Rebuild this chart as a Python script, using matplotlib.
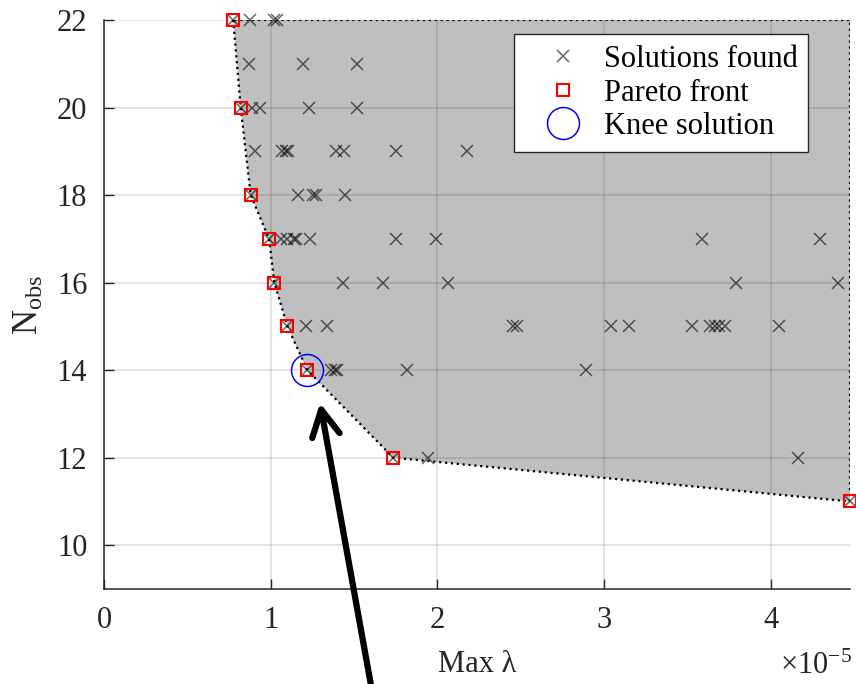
import numpy as np
import matplotlib
matplotlib.use("Agg")
import matplotlib.pyplot as plt

plt.rcParams['font.family'] = ['Liberation Serif', 'DejaVu Serif']
plt.rcParams['mathtext.fontset'] = 'custom'
plt.rcParams['mathtext.rm'] = 'Liberation Serif'

# Max lambda values are in units of 1e-5
sol_x = [0.775, 0.875, 1.02, 1.035,
         0.87, 1.196, 1.52,
         0.82, 0.89, 0.936, 1.232, 1.52,
         0.906, 1.066, 1.09, 1.106, 1.392, 1.44, 1.75, 2.176,
         0.88, 1.166, 1.256, 1.27, 1.446,
         0.99, 1.062, 1.096, 1.14, 1.15, 1.236, 1.75, 1.99, 3.585, 4.295,
         1.022, 1.436, 1.676, 2.066, 3.79, 4.405,
         1.10, 1.212, 1.34, 2.455, 2.475, 3.04, 3.15, 3.525, 3.635, 3.665, 3.69, 3.725, 4.05,
         1.22, 1.362, 1.386, 1.40, 1.82, 2.89,
         1.735, 1.946, 4.165,
         4.475]
sol_y = [22, 22, 22, 22,
         21, 21, 21,
         20, 20, 20, 20, 20,
         19, 19, 19, 19, 19, 19, 19, 19,
         18, 18, 18, 18, 18,
         17, 17, 17, 17, 17, 17, 17, 17, 17, 17,
         16, 16, 16, 16, 16, 16,
         15, 15, 15, 15, 15, 15, 15, 15, 15, 15, 15, 15, 15,
         14, 14, 14, 14, 14, 14,
         12, 12, 12,
         11]

pareto_x = [0.775, 0.82, 0.88, 0.99, 1.022, 1.10, 1.22, 1.735, 4.475]
pareto_y = [22, 20, 18, 17, 16, 15, 14, 12, 11]

knee_x = 1.22
knee_y = 14

fig = plt.figure(figsize=(8.56, 6.84), dpi=100)
ax = fig.add_axes([104/856, 1-589/684, 746/856, 569/684])

# dominated region
poly_x = pareto_x + [pareto_x[-1]]
poly_y = pareto_y + [max(pareto_y)]
ax.fill(poly_x, poly_y, facecolor='#bfbfbf', edgecolor='k', linestyle=':', linewidth=1.6, zorder=1)

ax.grid(True, color='0.15', alpha=0.15, linewidth=1.2, zorder=2)
ax.set_axisbelow(False)

ax.plot(sol_x, sol_y, 'x', color='k', alpha=0.6, markersize=8, markeredgewidth=1.1,
        label='Solutions found', zorder=3, clip_on=False)
ax.plot(pareto_x, pareto_y, 's', markerfacecolor='none', markeredgecolor='red', markersize=8.5,
        markeredgewidth=1.5, label='Pareto front', zorder=4, clip_on=False)
ax.plot([knee_x], [knee_y], 'o', markerfacecolor='none', markeredgecolor='blue', markersize=23,
        markeredgewidth=1.1, label='Knee solution', zorder=5, clip_on=False)

ax.set_xlim(0, 4.475)
ax.set_ylim(9, 22)
ax.set_xticks([0, 1, 2, 3, 4])
ax.set_yticks([10, 12, 14, 16, 18, 20, 22])
ax.tick_params(direction='in', length=7, width=1, colors='0.15', labelsize=22, pad=12)
for s in ['top', 'right']:
    ax.spines[s].set_visible(False)
for s in ['left', 'bottom']:
    ax.spines[s].set_color('0.15')
    ax.spines[s].set_linewidth(1.1)

ax.set_xlabel('Max λ', fontsize=22, color='0.15', labelpad=11)
ax.set_ylabel(r'$\mathregular{N_{obs}}$', fontsize=25, color='0.15', labelpad=8)
fig.text(852/856, 3/684, r'$\times\mathregular{10^{-5}}$', fontsize=22, color='0.15',
         ha='right', va='bottom')

leg = ax.legend(loc='upper right', bbox_to_anchor=(0.944, 0.975), borderaxespad=0,
                fontsize=22, frameon=True, fancybox=False, framealpha=1, edgecolor='0.15',
                handletextpad=0.09, borderpad=0.35, labelspacing=0.15, handlelength=2.5)
leg.get_frame().set_linewidth(1.0)

ax.annotate('', xy=(1.296, 13.25), xycoords='data',
            xytext=(372/856, -0.01), textcoords='figure fraction',
            arrowprops=dict(arrowstyle='->, head_length=0.95, head_width=0.5',
                            lw=4.5, color='k', mutation_scale=20, shrinkA=0, shrinkB=0),
            annotation_clip=False)

fig.savefig('out.png', dpi=100)
